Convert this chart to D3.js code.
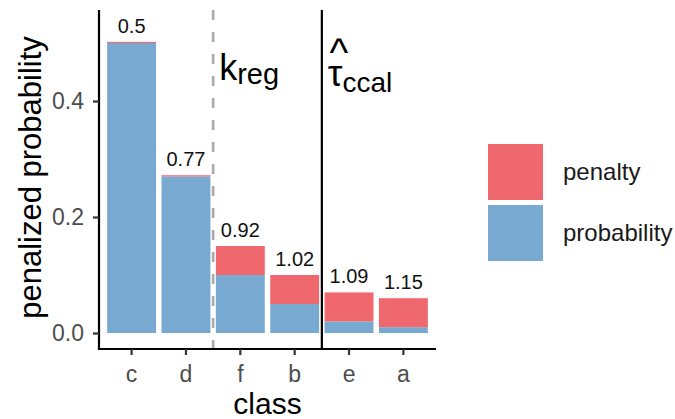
<!DOCTYPE html>
<html>
<head>
<meta charset="utf-8">
<script src="https://cdn.jsdelivr.net/npm/d3@7"></script>
<style>
  html, body { margin: 0; padding: 0; background: #fff; }
  svg { display: block; font-family: "Liberation Sans", Arial, sans-serif; }
</style>
</head>
<body>
<svg id="chart" width="675" height="419"></svg>
<script>
// ---- data ----
const categories = ["c", "d", "f", "b", "e", "a"];
const probability = [0.5, 0.27, 0.10, 0.05, 0.02, 0.01];
const penalty = [0.002, 0.002, 0.05, 0.05, 0.05, 0.05];
const barLabels = ["0.5", "0.77", "0.92", "1.02", "1.09", "1.15"];
const yTicks = [0.0, 0.2, 0.4];
const seriesNames = ["penalty", "probability"];
const seriesColors = ["#EF686D", "#78A9D1"];
const kregAfter = "d";   // dashed line between d and f
const tauAfter = "b";    // solid line between b and e

// ---- layout ----
const svg = d3.select("#chart");
const pLeft = 99, pRight = 436, pTop = 10, pBottom = 349;

const x = d3.scaleBand().domain(categories).range([pLeft, pRight])
  .paddingInner(0.1).paddingOuter(0.15);
const y = d3.scaleLinear().domain([-0.02759, 0.5569]).range([pBottom, pTop]);

const rows = categories.map((c, i) => ({ cls: c, probability: probability[i], penalty: penalty[i], label: barLabels[i] }));
const stack = d3.stack().keys(["probability", "penalty"])(rows);
const color = d3.scaleOrdinal().domain(seriesNames).range(seriesColors);

const bars = svg.append("g");
stack.forEach(layer => {
  bars.append("g").attr("fill", color(layer.key))
    .selectAll("rect").data(layer).join("rect")
    .attr("x", d => x(d.data.cls))
    .attr("width", x.bandwidth())
    .attr("y", d => y(d[1]))
    .attr("height", d => y(d[0]) - y(d[1]));
});

// bar labels
svg.append("g").selectAll("text").data(rows).join("text")
  .attr("x", d => x(d.cls) + x.bandwidth() / 2)
  .attr("y", d => y(d.probability + d.penalty) - 9)
  .attr("text-anchor", "middle")
  .attr("font-size", 20)
  .attr("fill", "#111")
  .text(d => d.label);

// vertical reference lines
function boundary(cat) {
  const i = categories.indexOf(cat);
  return (x(categories[i]) + x(categories[i + 1]) + x.bandwidth()) / 2;
}
const xk = boundary(kregAfter), xt = boundary(tauAfter);
svg.append("line").attr("x1", xk).attr("x2", xk).attr("y1", pTop).attr("y2", pBottom)
  .attr("stroke", "#AAAAAA").attr("stroke-width", 2.6).attr("stroke-dasharray", "10,12");
svg.append("line").attr("x1", xt).attr("x2", xt).attr("y1", pTop).attr("y2", pBottom)
  .attr("stroke", "#000").attr("stroke-width", 2.2);

// annotations
const kt = svg.append("text").attr("x", xk + 6).attr("y", 80).attr("fill", "#000");
kt.append("tspan").attr("font-size", 36).text("k");
kt.append("tspan").attr("font-size", 29).attr("dy", 4).text("reg");

const tt = svg.append("text").attr("x", xt + 6).attr("y", 86).attr("fill", "#000");
tt.append("tspan").attr("font-size", 37).text("τ");
tt.append("tspan").attr("font-size", 28).attr("dy", 6).text("ccal");
svg.append("text").attr("x", xt + 17).attr("y", 66).attr("text-anchor", "middle")
  .attr("font-size", 40).attr("fill", "#000").text("^");

// axes
const yAxis = d3.axisLeft(y).tickValues(yTicks).tickFormat(d3.format(".1f"))
  .tickSize(6).tickSizeOuter(0).tickPadding(9);
const gy = svg.append("g").attr("transform", `translate(${pLeft},0)`).call(yAxis);
const xAxis = d3.axisBottom(x).tickSize(6).tickSizeOuter(0).tickPadding(6);
const gx = svg.append("g").attr("transform", `translate(0,${pBottom})`).call(xAxis);
[gy, gx].forEach(g => {
  g.select(".domain").attr("stroke", "#000").attr("stroke-width", 2.2);
  g.selectAll(".tick line").attr("stroke", "#333").attr("stroke-width", 2.2);
  g.selectAll(".tick text").attr("fill", "#4D4D4D").attr("font-size", 23)
    .attr("font-family", "Liberation Sans, Arial, sans-serif");
});
gy.select(".domain").attr("d", `M0,${pTop}V${pBottom + 1.1}`);
gx.select(".domain").attr("d", `M${pLeft - 1.1},0H${pRight}`);
gx.selectAll(".tick text").attr("dy", "0.9em");

// axis titles
svg.append("text").attr("x", (pLeft + pRight) / 2).attr("y", 414)
  .attr("text-anchor", "middle").attr("font-size", 30).attr("fill", "#000").text("class");
svg.append("text").attr("transform", `translate(41,${(pTop + pBottom) / 2 - 2}) rotate(-90)`)
  .attr("text-anchor", "middle").attr("font-size", 31).attr("fill", "#000").text("penalized probability");

// legend
const legend = svg.append("g");
const keyW = 55, keyH = 56, keyGap = 5, lx = 488, ly = 144;
seriesNames.forEach((name, i) => {
  const yy = ly + i * (keyH + keyGap);
  legend.append("rect").attr("x", lx).attr("y", yy).attr("width", keyW).attr("height", keyH)
    .attr("fill", color(name));
  legend.append("text").attr("x", lx + keyW + 20).attr("y", yy + keyH / 2)
    .attr("dy", "0.35em").attr("font-size", 24).attr("fill", "#1a1a1a").text(name);
});
</script>
</body>
</html>
